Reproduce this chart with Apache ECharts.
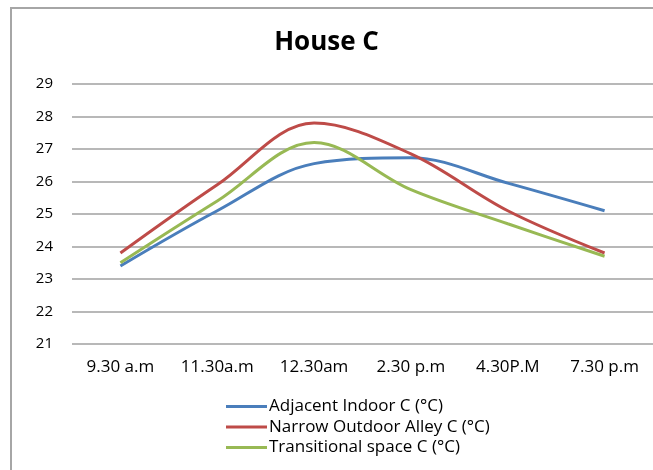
<!DOCTYPE html>
<html>
<head>
<meta charset="utf-8">
<script src="https://cdn.jsdelivr.net/npm/echarts@6/dist/echarts.min.js"></script>
<style>html,body{margin:0;padding:0;background:#fff;}#c{width:653px;height:470px;}</style>
</head>
<body>
<div id="c"></div>
<script>
var categories = ['9.30 a.m', '11.30a.m', '12.30am', '2.30 p.m', '4.30P.M', '7.30 p.m'];
var adjacentIndoor = [23.4, 25.1, 26.55, 26.73, 25.95, 25.1];
var narrowAlley = [23.8, 25.9, 27.8, 26.85, 25.1, 23.8];
var transitional = [23.5, 25.4, 27.2, 25.75, 24.7, 23.7];
var seriesNames = ['Adjacent Indoor C (°C)', 'Narrow Outdoor Alley C (°C)', 'Transitional space C (°C)'];
var colors = ['#4a7ebb', '#be4b48', '#98b954'];
var font = '"Open Sans", "Liberation Sans", sans-serif';

var chart = echarts.init(document.getElementById('c'));
var data = [adjacentIndoor, narrowAlley, transitional];
chart.setOption({
  animation: false,
  title: {
    text: 'House C', left: 'center', top: 25,
    textStyle: { fontFamily: font, fontSize: 26, fontWeight: 'bold', color: '#000' }
  },
  graphic: [{
    type: 'rect', shape: { x: 11, y: 8, width: 700, height: 520 },
    style: { fill: 'none', stroke: '#a6a6a6', lineWidth: 2 }, silent: true, z: -1
  }],
  legend: {
    orient: 'vertical', left: 221, top: 393, itemGap: 3.5,
    itemWidth: 41, itemHeight: 3,
    icon: 'rect',
    textStyle: { fontFamily: font, fontSize: 17, color: '#000', padding: [0, 0, 0, -3] },
    data: seriesNames
  },
  grid: { left: 72, right: -1, top: 84, bottom: 126 },
  xAxis: {
    type: 'category', data: categories, boundaryGap: true,
    axisLine: { show: false }, axisTick: { show: false },
    axisLabel: { fontFamily: font, fontSize: 17, color: '#000', margin: 15 }
  },
  yAxis: {
    type: 'value', min: 21, max: 29, interval: 1,
    axisLine: { show: false }, axisTick: { show: false },
    axisLabel: { fontFamily: font, fontSize: 15, color: '#000', margin: 19 },
    splitLine: { lineStyle: { color: '#a0a0a0', width: 1.5 } }
  },
  series: data.map(function (d, i) {
    return {
      name: seriesNames[i], type: 'line', data: d, smooth: 0.35,
      symbol: 'none', lineStyle: { color: colors[i], width: 3 },
      itemStyle: { color: colors[i] }
    };
  })
});
</script>
</body>
</html>
